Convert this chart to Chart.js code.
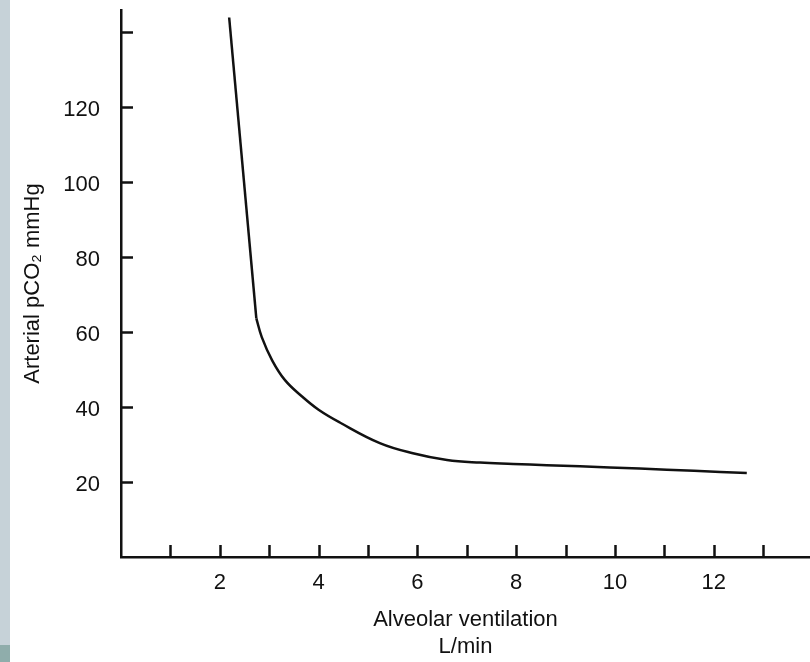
<!DOCTYPE html>
<html>
<head>
<meta charset="utf-8">
<script src="https://cdn.jsdelivr.net/npm/chart.js@4"></script>
<style>
  html, body { margin: 0; padding: 0; background: #fff; }
  #wrap { position: relative; width: 810px; height: 662px; overflow: hidden; }
  .strip { position: absolute; left: 0; top: 0; width: 10px; height: 645px; background: #c6d2d8; }
  .corner { position: absolute; left: 0; top: 645px; width: 10px; height: 17px; background: #8fadab; }
  canvas { position: absolute; left: 0; top: 0; }
</style>
</head>
<body>
<div id="wrap">
  <div class="strip"></div>
  <div class="corner"></div>
  <canvas id="chart" width="810" height="662"></canvas>
</div>
<script>
// steep part (L/min, mmHg)
const steepX = [2.19, 2.74];
const steepY = [144, 63.7];

// hyperbolic part
const curveX = [2.74, 2.85, 3.06, 3.32, 3.66, 4.0, 4.43, 5.24, 5.91, 6.6, 7.27, 7.94, 8.62, 9.29, 10.5, 11.6, 12.67];
const curveY = [63.7, 58.7, 52.5, 47.2, 42.9, 39.3, 35.9, 30.4, 27.7, 25.9, 25.2, 24.85, 24.5, 24.2, 23.6, 23.0, 22.4];

const xTicks = [1, 2, 3, 4, 5, 6, 7, 8, 9, 10, 11, 12, 13];
const xLabels = [2, 4, 6, 8, 10, 12];
const yTicks = [20, 40, 60, 80, 100, 120, 140];
const yLabels = [20, 40, 60, 80, 100, 120];

const toPoints = (xs, ys) => xs.map((x, i) => ({ x: x, y: ys[i] }));

const FONT = "'Liberation Sans', Arial, sans-serif";
const INK = '#111';

// no extra room for labels: the plot box is fixed
const noPad = (s) => { s.paddingTop = 0; s.paddingBottom = 0; s.paddingLeft = 0; s.paddingRight = 0; };

// tick marks pointing into the plot
const inwardTicks = {
    id: 'inwardTicks',
    afterDraw(chart) {
        const ctx = chart.ctx;
        const xs = chart.scales.x, ys = chart.scales.y;
        const area = chart.chartArea;
        ctx.save();
        ctx.strokeStyle = INK;
        ctx.lineWidth = 2.5;
        ctx.beginPath();
        yTicks.forEach(v => {
            const py = Math.round(ys.getPixelForValue(v)) + 0.5;
            ctx.moveTo(area.left, py);
            ctx.lineTo(area.left + 12, py);
        });
        xTicks.forEach(v => {
            const px = Math.round(xs.getPixelForValue(v)) + 0.5;
            ctx.moveTo(px, area.bottom);
            ctx.lineTo(px, area.bottom - 12);
        });
        ctx.stroke();
        ctx.restore();
    }
};

new Chart(document.getElementById('chart'), {
    type: 'line',
    data: {
        datasets: [{
            data: toPoints(steepX, steepY),
            borderColor: INK,
            borderWidth: 2.5,
            pointRadius: 0,
            tension: 0
        }, {
            data: toPoints(curveX, curveY),
            borderColor: INK,
            borderWidth: 2.5,
            pointRadius: 0,
            tension: 0.4
        }]
    },
    options: {
        responsive: false,
        animation: false,
        layout: { autoPadding: false, padding: { top: 10, right: 0, left: 0, bottom: 0 } },
        plugins: { legend: { display: false }, tooltip: { enabled: false } },
        scales: {
            x: {
                type: 'linear',
                min: 0,
                max: 13.95,
                afterFit: (s) => { s.height = 105; noPad(s); },
                afterBuildTicks: (s) => { s.ticks = xTicks.map(v => ({ value: v })); },
                grid: { display: false, drawTicks: false },
                border: { display: true, color: INK, width: 2.5 },
                ticks: {
                    color: INK,
                    font: { family: FONT, size: 22 },
                    padding: 13,
                    autoSkip: false,
                    maxRotation: 0,
                    callback: (v) => xLabels.includes(v) ? String(v) : ''
                },
                title: {
                    display: true,
                    text: ['Alveolar ventilation', 'L/min'],
                    color: INK,
                    font: { family: FONT, size: 22, lineHeight: 1.2 },
                    padding: { top: 0, bottom: 2 }
                }
            },
            y: {
                type: 'linear',
                min: 0,
                max: 146,
                afterFit: (s) => { s.width = 121; noPad(s); },
                afterBuildTicks: (s) => { s.ticks = yTicks.map(v => ({ value: v })); },
                grid: { display: false, drawTicks: false },
                border: { display: true, color: INK, width: 2.5 },
                ticks: {
                    color: INK,
                    font: { family: FONT, size: 22 },
                    padding: 21,
                    labelOffset: 3,
                    autoSkip: false,
                    callback: (v) => yLabels.includes(v) ? String(v) : ''
                },
                title: {
                    display: true,
                    text: 'Arterial pCO\u2082 mmHg',
                    color: INK,
                    font: { family: FONT, size: 22 },
                    padding: { top: 20, bottom: 0 }
                }
            }
        }
    },
    plugins: [inwardTicks]
});
</script>
</body>
</html>
